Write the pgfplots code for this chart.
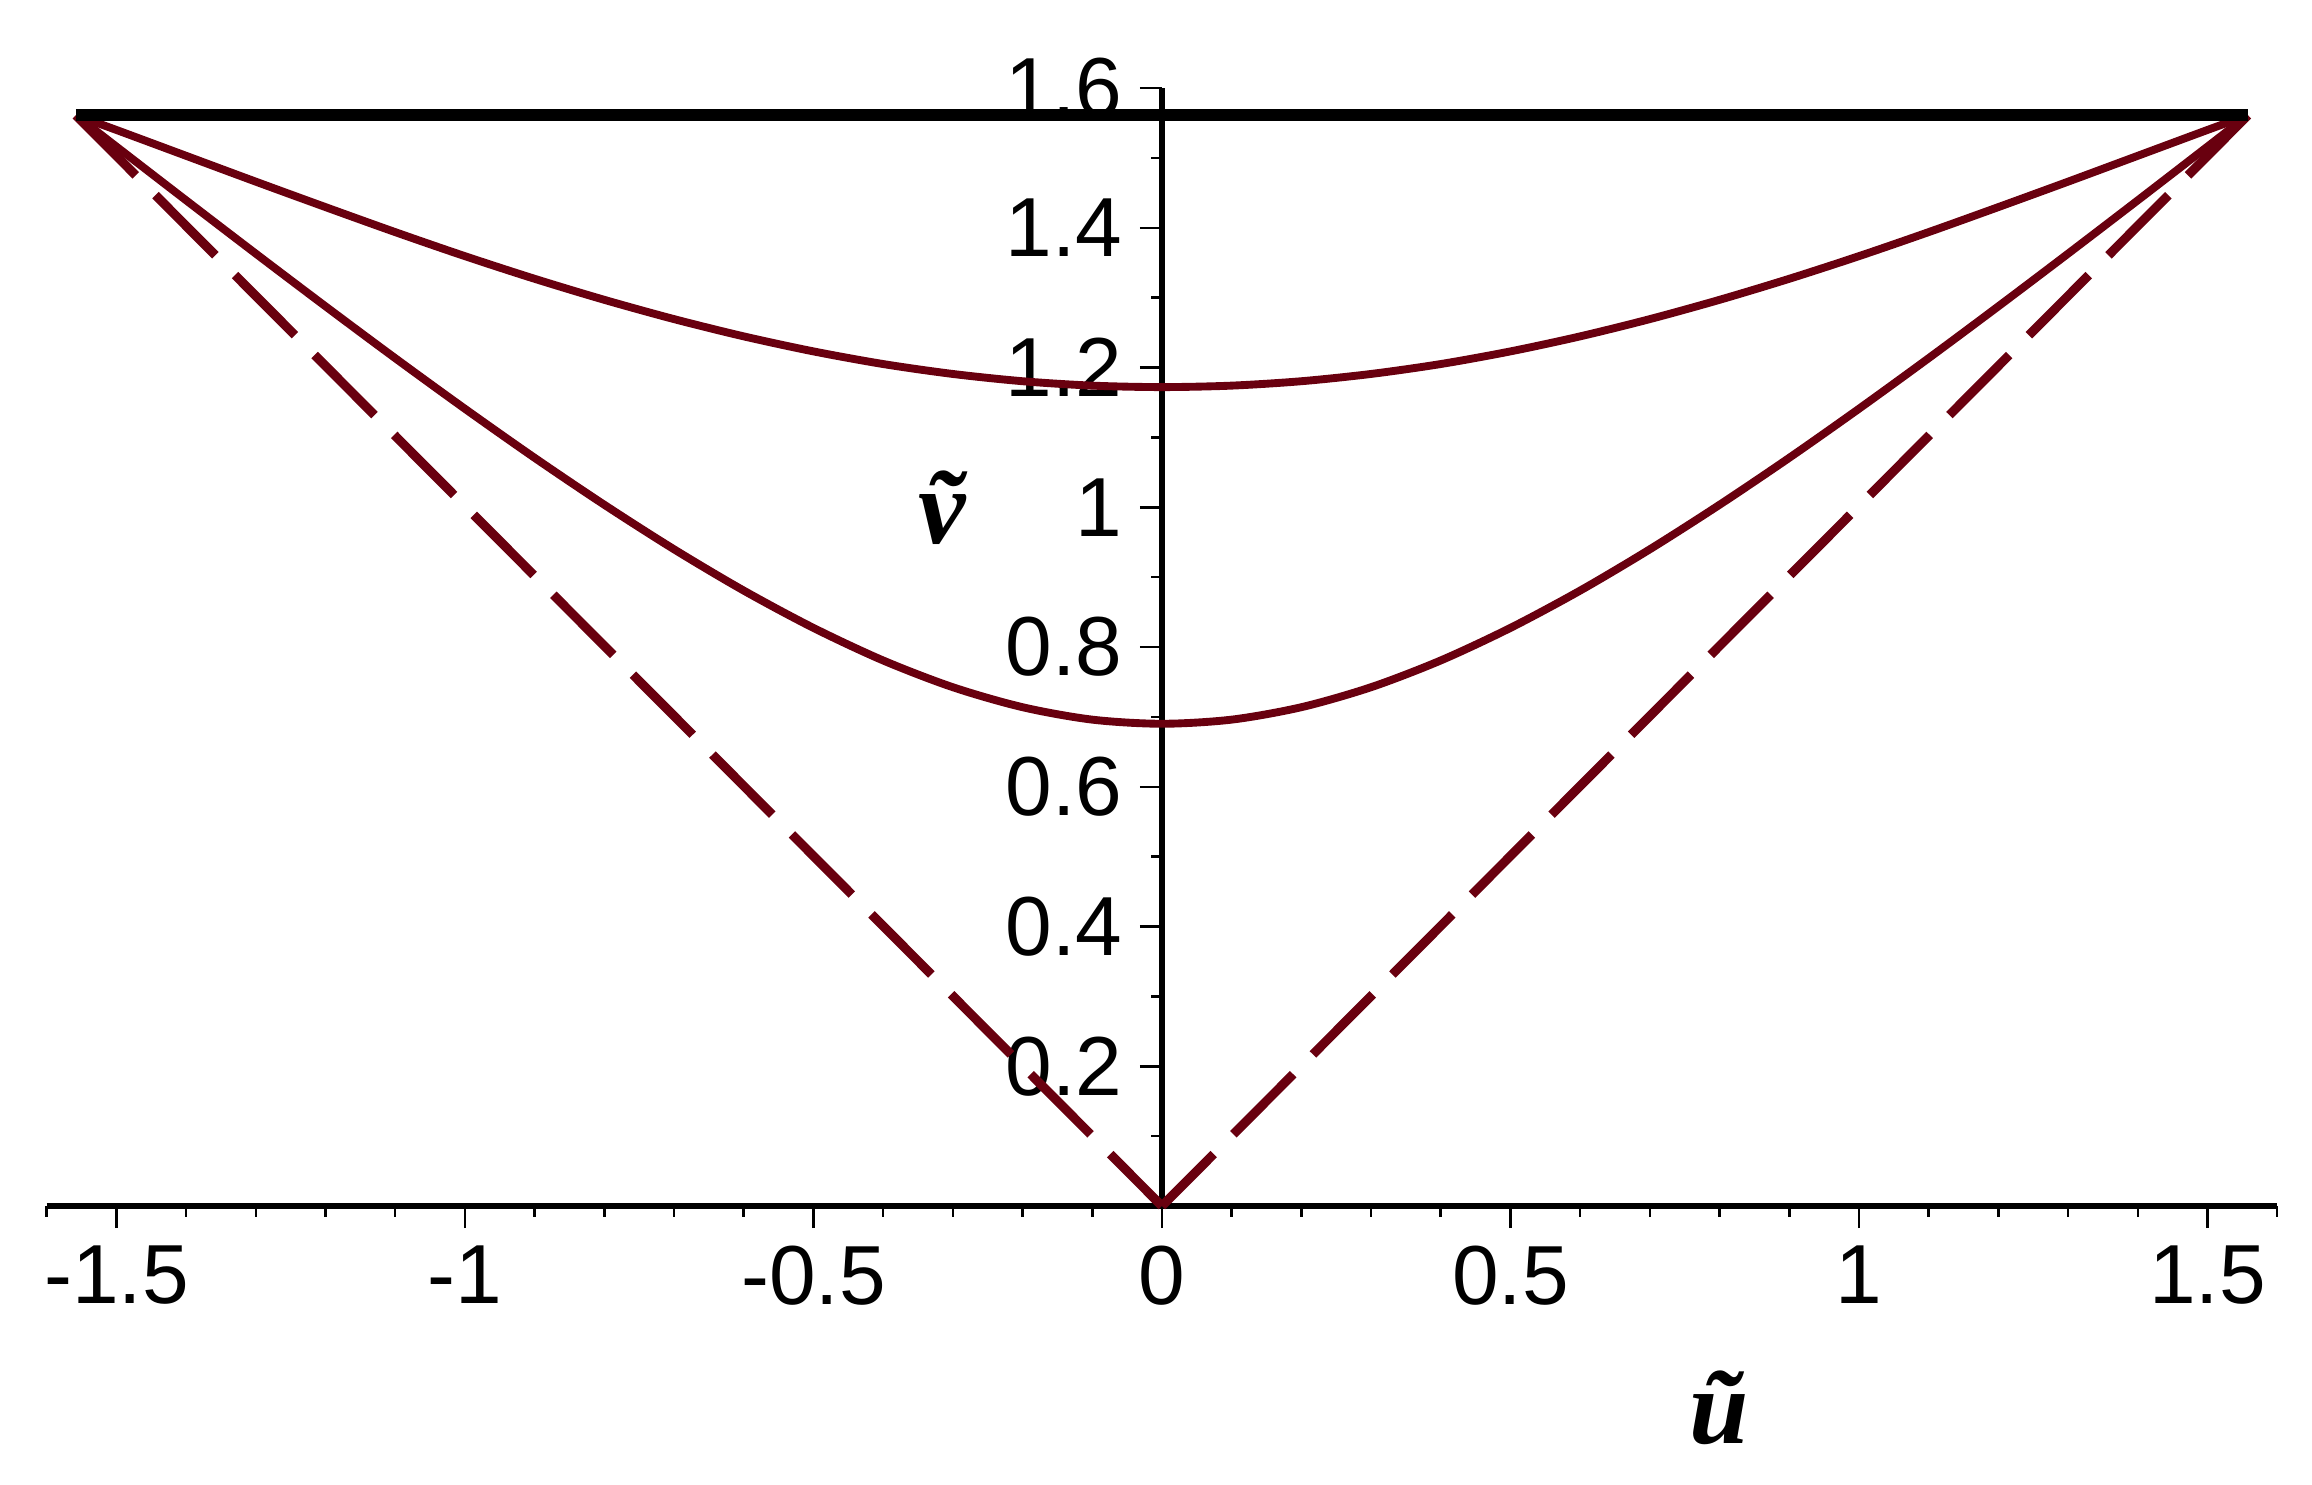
\documentclass[border=0pt]{standalone}
\usepackage{fontspec}
\setmainfont{Liberation Sans}
\newfontfamily\lblfont{Liberation Serif}
\usepackage{pgfplots}
\pgfplotsset{compat=1.18}
\definecolor{maple}{RGB}{105,0,15}

\begin{document}
\begin{tikzpicture}
\begin{axis}[
  x=4.823cm, y=4.835cm,
  xmin=-1.6, xmax=1.6, ymin=0, ymax=1.6,
  axis lines=middle,
  axis line style={-, line width=1.2pt, black},
  clip=false,
  hide obscured x ticks=false,
  hide obscured y ticks=false,
  xtick={-1.5,-1,-0.5,0,0.5,1,1.5},
  xticklabels={-1.5,-1,-0.5,0,0.5,1,1.5},
  minor xtick={-1.6,-1.4,-1.3,-1.2,-1.1,-0.9,-0.8,-0.7,-0.6,-0.4,-0.3,-0.2,-0.1,
               0.1,0.2,0.3,0.4,0.6,0.7,0.8,0.9,1.1,1.2,1.3,1.4,1.6},
  ytick={0.2,0.4,0.6,0.8,1,1.2,1.4,1.6},
  yticklabels={0.2,0.4,0.6,0.8,1,1.2,1.4,1.6},
  minor ytick={0.1,0.3,0.5,0.7,0.9,1.1,1.3,1.5},
  tick align=outside,
  major tick length=0.152cm, minor tick length=0.075cm,
  tick style={black, line width=0.5pt},
  ticklabel style={font=\fontsize{16.5}{18}\selectfont},
]
% dashed limits v = |u|
\addplot[maple, line width=1.8pt, dash pattern=on 16.7pt off 5.5pt]
  coordinates {(-1.558,1.561)(0,0)};
\addplot[maple, line width=1.8pt, dash pattern=on 16.7pt off 5.5pt]
  coordinates {(1.558,1.561)(0,0)};
% lower curve
\addplot[maple, line width=1.55pt, smooth] coordinates {
  (-1.558,1.561)(-1.5,1.5162)(-1.4,1.4393)(-1.3,1.3630)(-1.2,1.2876)
  (-1.1,1.2134)(-1.0,1.1410)(-0.9,1.0708)(-0.8,1.0036)(-0.7,0.9399)
  (-0.6,0.8808)(-0.5,0.8274)(-0.4,0.7808)(-0.3,0.7425)(-0.2,0.7139)
  (-0.1,0.6961)(0,0.6902)(0.1,0.6961)(0.2,0.7139)(0.3,0.7425)
  (0.4,0.7808)(0.5,0.8274)(0.6,0.8808)(0.7,0.9399)(0.8,1.0036)
  (0.9,1.0708)(1.0,1.1410)(1.1,1.2134)(1.2,1.2876)(1.3,1.3630)
  (1.4,1.4393)(1.5,1.5162)(1.558,1.561)};
% upper curve
\addplot[maple, line width=1.55pt, smooth] coordinates {
  (-1.558,1.561)(-1.5,1.5400)(-1.4,1.5030)(-1.3,1.4660)(-1.2,1.4296)
  (-1.1,1.3938)(-1.0,1.3594)(-0.9,1.3270)(-0.8,1.2969)(-0.7,1.2693)
  (-0.6,1.2446)(-0.5,1.2231)(-0.4,1.2050)(-0.3,1.1908)(-0.2,1.1804)
  (-0.1,1.1741)(0,1.1720)(0.1,1.1741)(0.2,1.1804)(0.3,1.1908)
  (0.4,1.2050)(0.5,1.2231)(0.6,1.2446)(0.7,1.2693)(0.8,1.2969)
  (0.9,1.3270)(1.0,1.3594)(1.1,1.3938)(1.2,1.4296)(1.3,1.4660)
  (1.4,1.5030)(1.5,1.5400)(1.558,1.561)};
% top line
\addplot[black, line width=2.3pt] coordinates {(-1.558,1.561)(1.558,1.561)};
\node[font=\lblfont\bfseries\itshape\fontsize{21}{24}\selectfont] at (axis cs:0.80,-0.289) {\~{u}};
\node[font=\lblfont\bfseries\itshape\fontsize{21}{24}\selectfont] at (axis cs:-0.316,1.0) {\~{v}};
\coordinate (bl) at (axis cs:-1.667,-0.399);
\coordinate (tr) at (axis cs:1.650,1.726);
\end{axis}
\pgfresetboundingbox
\path[use as bounding box] (bl) rectangle (tr);
\end{tikzpicture}
\end{document}
